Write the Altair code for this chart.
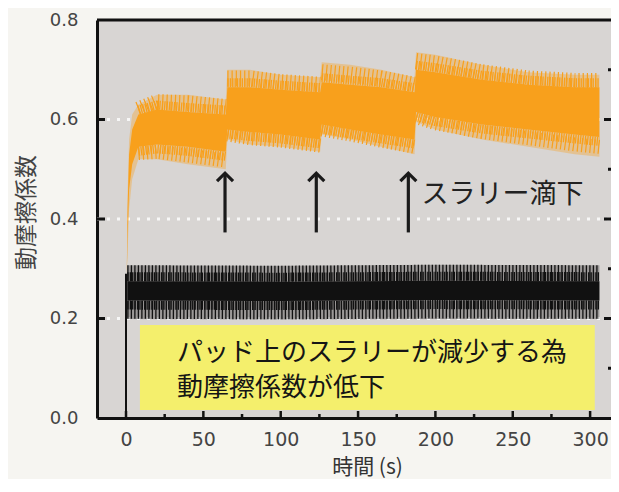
import altair as alt
import pandas as pd

# ---------------- data ----------------
# orange trace (with slurry drops): envelope of the dense oscillation
t_orange = [0.5, 1, 2, 4, 8, 20, 40, 64.5, 65.5, 80, 100, 125.5, 126.5, 145, 165, 186.5,
            187.5, 200, 230, 260, 290, 306]
orange_segment = [0, 0, 0, 0, 1, 1, 1, 1, 2, 2, 2, 2, 3, 3, 3, 3, 4, 4, 4, 4, 4, 4]
orange_outer_hi = [0.29, 0.45, 0.56, 0.61, 0.63, 0.65, 0.65, 0.64, 0.70, 0.70, 0.69, 0.685,
                   0.715, 0.71, 0.70, 0.685, 0.735, 0.73, 0.71, 0.695, 0.69, 0.69]
orange_inner_hi = [0.29, 0.42, 0.53, 0.58, 0.61, 0.62, 0.615, 0.61, 0.665, 0.665, 0.66, 0.655,
                   0.675, 0.67, 0.665, 0.655, 0.70, 0.695, 0.68, 0.67, 0.665, 0.665]
orange_inner_lo = [0.29, 0.36, 0.46, 0.51, 0.545, 0.55, 0.545, 0.535, 0.58, 0.575, 0.57, 0.56,
                   0.59, 0.58, 0.57, 0.56, 0.615, 0.605, 0.59, 0.58, 0.57, 0.565]
orange_outer_lo = [0.29, 0.33, 0.42, 0.48, 0.52, 0.52, 0.51, 0.50, 0.56, 0.55, 0.545, 0.535,
                   0.57, 0.56, 0.545, 0.53, 0.595, 0.58, 0.56, 0.545, 0.53, 0.525]

# black trace (dry): envelope of the dense oscillation
t_black = [0.8, 100, 200, 306]
black_segment = [1, 1, 1, 1]
black_outer_hi = [0.307, 0.306, 0.308, 0.307]
black_inner_hi = [0.275, 0.274, 0.276, 0.275]
black_inner_lo = [0.236, 0.235, 0.237, 0.236]
black_outer_lo = [0.199, 0.198, 0.199, 0.199]
black_start_t = [0]
black_start_lo = [0.0]
black_start_hi = [0.29]

# slurry-drop arrows
arrow_t = [64, 123, 182.5]
arrow_base = [0.373, 0.373, 0.373]
arrow_tip = [0.492, 0.492, 0.492]

# annotation box
box_x0, box_x1 = [9.0], [303.0]
box_y0, box_y1 = [0.016], [0.187]

# axes
x_ticks = [0, 50, 100, 150, 200, 250, 300]
x_minor = [25, 75, 125, 175, 225, 275]
y_ticks = [0.0, 0.2, 0.4, 0.6, 0.8]
y_major_inner = [0.2, 0.4, 0.6]
y_minor_right = [0.1, 0.3, 0.5, 0.7]
grid_vals = [0.2, 0.4, 0.6]

# ---------------- styling ----------------
W, H = 514, 398
ORANGE = "#f8a01c"
BLACK = "#111111"
YELLOW = "#f4ef6c"
JP = "Noto Sans CJK JP"
PX = 0.8 / H  # data units per pixel on y

xs = alt.Scale(domain=[-18.75, 313.5], nice=False, zero=False)
ys = alt.Scale(domain=[0, 0.8], nice=False, zero=False)

x_axis = alt.Axis(values=x_ticks, format="d", title="時間 (s)", labelFont="DejaVu Sans",
                  labelFontSize=19, labelColor="#444", labelPadding=12, tickSize=0, ticks=False,
                  labelFlush=False, labelOverlap=False, grid=False,
                  domainColor="#111", domainWidth=3,
                  titleFont=JP, titleFontSize=21, titleFontWeight="normal", titleColor="#333",
                  titleX=270, titleY=49, titleBaseline="middle", titleAlign="center")
y_axis = alt.Axis(values=y_ticks, format=".1f", title="動摩擦係数", labelFont="DejaVu Sans",
                  labelFontSize=18, labelColor="#444", labelPadding=19, tickSize=0, ticks=False,
                  labelFlush=False, labelOverlap=False, grid=False,
                  domainColor="#111", domainWidth=3,
                  titleFont=JP, titleFontSize=23, titleFontWeight="normal", titleColor="#444",
                  titleX=-59, titleY=192, titleBaseline="bottom", titleAlign="center", titleAngle=270)


def X(f):
    return alt.X(f, scale=xs, axis=x_axis)


def Y(f):
    return alt.Y(f, scale=ys, axis=y_axis)


def envelope_frame(t, seg, oh, ih, il, ol):
    df = pd.DataFrame({"t": t, "seg": seg, "oh": oh, "ih": ih, "il": il, "ol": ol})
    df["um"] = (df["oh"] + df["ih"]) / 2
    df["lm"] = (df["ol"] + df["il"]) / 2
    df["ud"] = df["ih"] + 4.5 * PX
    df["ld"] = df["il"] - 4.5 * PX
    return df


orange_df = envelope_frame(t_orange, orange_segment, orange_outer_hi, orange_inner_hi,
                           orange_inner_lo, orange_outer_lo)
black_df = envelope_frame(t_black, black_segment, black_outer_hi, black_inner_hi,
                          black_inner_lo, black_outer_lo)
black_start_df = pd.DataFrame({"t": black_start_t, "lo": black_start_lo, "hi": black_start_hi})
arrow_df = pd.DataFrame({"t": arrow_t, "base": arrow_base, "tip": arrow_tip})
box_df = pd.DataFrame({"x0": box_x0, "x1": box_x1, "y0": box_y0, "y1": box_y1})
grid_df = pd.DataFrame({"v": grid_vals})
ymaj_df = pd.DataFrame({"v": y_major_inner})
ymin_df = pd.DataFrame({"v": y_minor_right})
xmaj_df = pd.DataFrame({"v": x_ticks})
xmin_df = pd.DataFrame({"v": x_minor})
one = pd.DataFrame({"a": [0]})


def trace_layers(df, color, fringe_op, up_w, lo_w, sparse_dash, dense_dash):
    base = alt.Chart(df)
    striped = base.transform_filter("datum.seg > 0")
    return [
        base.mark_area(color=color, opacity=fringe_op).encode(x=X("t:Q"), y=Y("ol:Q"), y2="oh:Q"),
        striped.mark_line(color=color, strokeWidth=up_w, strokeDash=sparse_dash).encode(
            x=X("t:Q"), y=Y("um:Q"), detail="seg:N"),
        striped.mark_line(color=color, strokeWidth=lo_w, strokeDash=sparse_dash).encode(
            x=X("t:Q"), y=Y("lm:Q"), detail="seg:N"),
        striped.mark_line(color=color, strokeWidth=9, strokeDash=dense_dash).encode(
            x=X("t:Q"), y=Y("ud:Q"), detail="seg:N"),
        striped.mark_line(color=color, strokeWidth=9, strokeDash=dense_dash).encode(
            x=X("t:Q"), y=Y("ld:Q"), detail="seg:N"),
        base.mark_area(color=color, opacity=1).encode(x=X("t:Q"), y=Y("il:Q"), y2="ih:Q"),
    ]


grid = alt.Chart(grid_df).mark_rule(color="#f7f7f7", strokeWidth=3, strokeDash=[3, 7]).encode(
    y=Y("v:Q"), x=alt.value(0), x2=alt.value(W))

box = alt.Chart(box_df).mark_rect(color=YELLOW).encode(
    x=X("x0:Q"), x2="x1:Q", y=Y("y0:Q"), y2="y1:Q")

orange_layers = trace_layers(orange_df, ORANGE, 0.35, 16, 14, [1.2, 3.0], [1.3, 1.1])
black_layers = trace_layers(black_df, BLACK, 0.3, 16, 18, [1.3, 2.2], [1.4, 1.0])

b_start = alt.Chart(black_start_df).mark_rule(color=BLACK, strokeWidth=2).encode(
    x=X("t:Q"), y=Y("lo:Q"), y2="hi:Q")

arrow_shaft = alt.Chart(arrow_df).mark_rule(color="#1a1a1a", strokeWidth=3.2).encode(
    x=X("t:Q"), y=Y("base:Q"), y2="tip:Q")
arrow_head = alt.Chart(arrow_df).mark_point(
    shape="M -1 1 L 0 0 L 1 1", filled=False, size=256, color="#1a1a1a",
    strokeWidth=3.2, opacity=1, strokeJoin="miter").encode(
    x=X("t:Q"), y=Y("tip:Q"))

drop_text = alt.Chart(pd.DataFrame({"t": [191.0], "v": [0.448], "s": ["スラリー滴下"]})).mark_text(
    align="left", baseline="middle", font=JP, fontSize=27, color="#222").encode(
    x=X("t:Q"), y=Y("v:Q"), text="s:N")

box_text = alt.Chart(pd.DataFrame({"t": [33.0, 33.0], "v": [0.131, 0.060],
                                   "s": ["パッド上のスラリーが減少する為", "動摩擦係数が低下"]})).mark_text(
    align="left", baseline="middle", font=JP, fontSize=26, color="#151515").encode(
    x=X("t:Q"), y=Y("v:Q"), text="s:N")

top_frame = alt.Chart(one).mark_rule(color="#111", strokeWidth=3).encode(
    y=alt.value(0), x=alt.value(0), x2=alt.value(W))

left_ticks = alt.Chart(ymaj_df).mark_rule(color="#111", strokeWidth=3).encode(
    y=Y("v:Q"), x=alt.value(0), x2=alt.value(8))
right_major = alt.Chart(ymaj_df).mark_rule(color="#111", strokeWidth=3).encode(
    y=Y("v:Q"), x=alt.value(W - 7), x2=alt.value(W))
right_minor = alt.Chart(ymin_df).mark_rule(color="#111", strokeWidth=3).encode(
    y=Y("v:Q"), x=alt.value(W - 3), x2=alt.value(W))
bottom_major = alt.Chart(xmaj_df).mark_rule(color="#111", strokeWidth=2.5).encode(
    x=X("v:Q"), y=alt.value(H), y2=alt.value(H - 7))
bottom_minor = alt.Chart(xmin_df).mark_rule(color="#111", strokeWidth=2.5).encode(
    x=X("v:Q"), y=alt.value(H), y2=alt.value(H - 4))

chart = alt.layer(
    grid, box, *orange_layers, *black_layers, b_start,
    arrow_shaft, arrow_head, drop_text, box_text,
    top_frame, left_ticks, right_major, right_minor, bottom_major, bottom_minor
).properties(
    width=W, height=H,
    autosize=alt.AutoSizeParams(type="none"),
    padding={"left": 89, "top": 12, "right": 0, "bottom": 61},
    background="#f6f5f1"
).configure_view(fill="#d8d5d3", stroke=None)

chart.save("out.html", embed_options={"renderer": "svg", "actions": False})
